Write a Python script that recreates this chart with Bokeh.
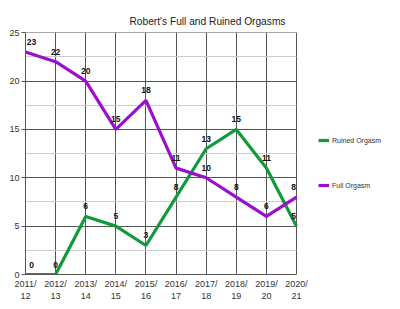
from bokeh.plotting import figure
from bokeh.models import ColumnDataSource, Legend, LegendItem, Range1d, FixedTicker, Title
from bokeh.embed import file_html
from bokeh.resources import INLINE
from bokeh.core.properties import value

seasons = ["2011/\n12", "2012/\n13", "2013/\n14", "2014/\n15", "2015/\n16",
           "2016/\n17", "2017/\n18", "2018/\n19", "2019/\n20", "2020/\n21"]
ruined = [0, 0, 6, 5, 3, 8, 13, 15, 11, 5]
full = [23, 22, 20, 15, 18, 11, 10, 8, 6, 8]
y_ticks = [0, 5, 10, 15, 20, 25]
y_minor = [2.5, 7.5, 12.5, 17.5, 22.5]

FONT = "Liberation Sans"
GREEN = "#119a3a"
PURPLE = "#9b0fcf"

xs = list(range(len(seasons)))
n = len(xs)

# frame spans the whole width so the legend (inside the frame) is not clipped;
# the data area (x 0..n-1) occupies pixels 25..296
W, H = 400, 309
left, right_pad = 25, 5
data_right = 296
x_end = (n - 1) * (W - right_pad - left) / (data_right - left)

p = figure(width=W, height=H, output_backend="svg", toolbar_location=None,
           x_range=Range1d(0, x_end), y_range=Range1d(0, 25.02),
           min_border_left=left, min_border_right=right_pad, min_border_top=32, min_border_bottom=35)
p.title = None
title = Title(text="Robert's Full and Ruined Orgasms", align="left", offset=104,
              vertical_align="middle",
              text_font=FONT, text_font_size="10.2px", text_font_style="normal",
              text_color="#222222")
p.add_layout(title, "above")

p.background_fill_color = "white"
p.border_fill_color = "white"
p.outline_line_color = None

p.xaxis.ticker = FixedTicker(ticks=xs)
p.xaxis.major_label_overrides = {i: s for i, s in enumerate(seasons)}
p.xaxis.bounds = (0, n - 1)
p.yaxis.ticker = FixedTicker(ticks=y_ticks, minor_ticks=y_minor)
for ax in (p.xaxis, p.yaxis):
    ax.axis_line_color = "#555555"
    ax.major_tick_line_color = "#555555"
    ax.minor_tick_line_color = None
    ax.major_tick_in = 0
    ax.major_tick_out = 4
    ax.major_label_text_font = FONT
    ax.major_label_text_font_size = "9px"
    ax.major_label_text_color = "#333333"
p.xaxis.major_tick_out = 0
p.xaxis.major_label_standoff = 4
p.yaxis.major_label_standoff = 2

p.xgrid.ticker = FixedTicker(ticks=xs)
p.xgrid.grid_line_color = "#555555"
p.xgrid.grid_line_width = 1
p.ygrid.grid_line_color = "#555555"
p.ygrid.minor_grid_line_color = "#cccccc"
p.ygrid.cross_bounds = (0, n - 1)

src = ColumnDataSource(dict(x=xs, ruined=ruined, full=full,
                            rl=[str(v) for v in ruined], fl=[str(v) for v in full]))

r1 = p.line("x", "ruined", source=src, line_color=GREEN, line_width=3.2)
r2 = p.line("x", "full", source=src, line_color=PURPLE, line_width=3.2)

# label offsets keep edge labels inside the data area
xo = [6] + [0] * (n - 2) + [-3]
src.data["xo"] = xo
for col in ("rl", "fl"):
    ycol = "ruined" if col == "rl" else "full"
    p.text("x", ycol, text=col, source=src, x_offset="xo", y_offset=-7,
           text_font=value(FONT), text_font_size="8.5px", text_font_style="bold",
           text_color="#111111", text_align="center", text_baseline="bottom")

legend = Legend(items=[LegendItem(label="Ruined Orgasm", renderers=[r1]),
                       LegendItem(label="Full Orgasm", renderers=[r2])],
                location=(data_right - left + 22, 85), orientation="vertical", spacing=37,
                glyph_width=11, glyph_height=8, label_standoff=3,
                label_text_font=FONT, label_text_font_size="7px", label_text_color="#333333",
                background_fill_alpha=0, border_line_color=None, padding=4, margin=0)
p.add_layout(legend, "center")

open("out.html", "w").write(file_html(p, INLINE))
